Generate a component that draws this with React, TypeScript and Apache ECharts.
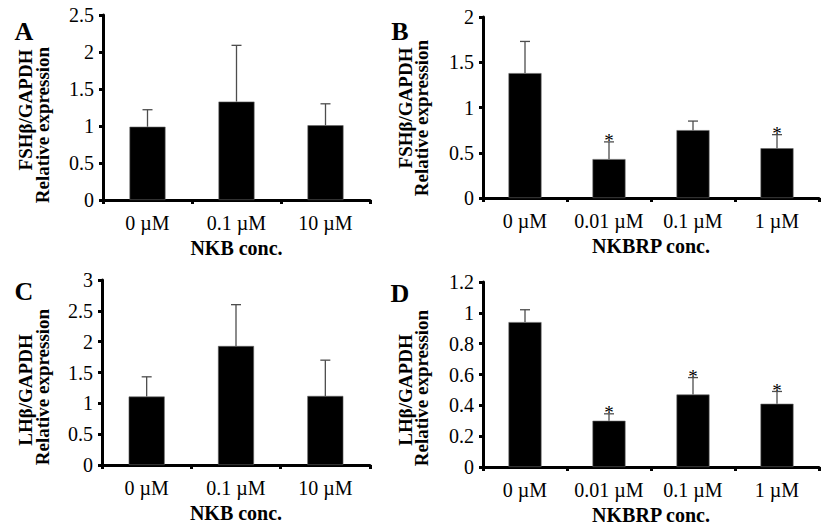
import React, { useEffect, useRef } from 'react';
import * as echarts from 'echarts';

// ---- data ----
const catsNKB = ['0 µM', '0.1 µM', '10 µM'];
const catsNKBRP = ['0 µM', '0.01 µM', '0.1 µM', '1 µM'];

const fshNKB = [0.99, 1.33, 1.01];
const fshNKBErr = [0.23, 0.76, 0.29];
const fshNKBSig = [false, false, false];

const fshNKBRP = [1.38, 0.43, 0.75, 0.55];
const fshNKBRPErr = [0.35, 0.19, 0.1, 0.15];
const fshNKBRPSig = [false, true, false, true];

const lhNKB = [1.11, 1.93, 1.12];
const lhNKBErr = [0.32, 0.67, 0.58];
const lhNKBSig = [false, false, false];

const lhNKBRP = [0.94, 0.3, 0.47, 0.41];
const lhNKBRPErr = [0.08, 0.045, 0.11, 0.08];
const lhNKBRPSig = [false, true, true, true];

const yMaxes = [2.5, 2, 3, 1.2];
const ySteps = [0.5, 0.5, 0.5, 0.2];
const xTitles = ['NKB conc.', 'NKBRP conc.', 'NKB conc.', 'NKBRP conc.'];
const genes = ['FSHβ/GAPDH', 'FSHβ/GAPDH', 'LHβ/GAPDH', 'LHβ/GAPDH'];
const letters = ['A', 'B', 'C', 'D'];

const FONT = "'Liberation Serif', 'Times New Roman', serif";

const panels = [
  { cats: catsNKB, vals: fshNKB, errs: fshNKBErr, sig: fshNKBSig, grid: { left: 103, right: 457, top: 15, bottom: 330 }, barW: 36 },
  { cats: catsNKBRP, vals: fshNKBRP, errs: fshNKBRPErr, sig: fshNKBRPSig, grid: { left: 483, right: 8, top: 17, bottom: 332 }, barW: 33 },
  { cats: catsNKB, vals: lhNKB, errs: lhNKBErr, sig: lhNKBSig, grid: { left: 102, right: 457, top: 280, bottom: 65 }, barW: 36 },
  { cats: catsNKBRP, vals: lhNKBRP, errs: lhNKBRPErr, sig: lhNKBRPSig, grid: { left: 483, right: 8, top: 282, bottom: 63 }, barW: 33 },
];

// positions of panel letters and y titles (layout only)
const letterPos = [[24, 31], [400, 31], [24, 291], [400, 293]];
const geneTitlePos = [[25, 110], [405, 108], [25, 390], [405, 390]];
const relTitlePos = [[42, 125], [421, 118], [42, 387], [421, 388]];

export default function App() {
  const ref = useRef<HTMLDivElement>(null);
  useEffect(() => {
    if (!ref.current) return;
    const chart = echarts.init(ref.current, undefined, { renderer: 'svg' });

    const grid: any[] = [];
    const xAxis: any[] = [];
    const yAxis: any[] = [];
    const series: any[] = [];
    const graphic: any[] = [];

    panels.forEach((p, i) => {
      grid.push({ ...p.grid, containLabel: false });
      xAxis.push({
        type: 'category',
        gridIndex: i,
        data: p.cats,
        boundaryGap: true,
        name: xTitles[i],
        nameLocation: 'middle',
        nameGap: 38,
        nameTextStyle: { fontFamily: FONT, fontSize: 20, fontWeight: 'bold', color: '#000' },
        axisLine: { lineStyle: { color: '#000', width: 3 } },
        axisTick: { show: true, alignWithLabel: false, interval: 0, length: 4, lineStyle: { color: '#000', width: 3 } },
        axisLabel: { fontFamily: FONT, fontSize: 20, color: '#000', margin: 13, interval: 0, hideOverlap: false },
        splitLine: { show: false },
      });
      yAxis.push({
        type: 'value',
        gridIndex: i,
        min: 0,
        max: yMaxes[i],
        interval: ySteps[i],
        axisLine: { show: true, lineStyle: { color: '#000', width: 3 } },
        axisTick: { show: true, length: 4, lineStyle: { color: '#000', width: 3 } },
        axisLabel: {
          fontFamily: FONT, fontSize: 20, color: '#000', margin: 9,
          formatter: (v: number) => String(+v.toFixed(2)),
        },
        splitLine: { show: false },
      });
      series.push({
        type: 'bar',
        xAxisIndex: i,
        yAxisIndex: i,
        data: p.vals,
        barWidth: p.barW,
        itemStyle: { color: '#000', borderColor: '#666', borderWidth: 0.6 },
        z: 2,
      });
      series.push({
        type: 'custom',
        xAxisIndex: i,
        yAxisIndex: i,
        z: 3,
        data: p.vals.map((v, k) => [k, v, p.errs[k], p.sig[k] ? 1 : 0]),
        renderItem: (params: any, api: any) => {
          const c = api.value(0);
          const v = api.value(1);
          const e = api.value(2);
          const s = api.value(3);
          const base = api.coord([c, v]);
          const top = api.coord([c, v + e]);
          const children: any[] = [
            { type: 'line', shape: { x1: base[0], y1: base[1], x2: top[0], y2: top[1] }, style: { stroke: '#4d4d4d', lineWidth: 1.3 } },
            { type: 'line', shape: { x1: top[0] - 5, y1: top[1], x2: top[0] + 5, y2: top[1] }, style: { stroke: '#4d4d4d', lineWidth: 1.3 } },
          ];
          if (s) {
            children.push({
              type: 'text',
              x: top[0],
              y: top[1] - 1,
              style: { text: '*', fontFamily: FONT, fontSize: 19, fill: '#000', textAlign: 'center', textVerticalAlign: 'middle' },
            });
          }
          return { type: 'group', children };
        },
      });

      graphic.push({
        type: 'text', x: letterPos[i][0], y: letterPos[i][1],
        style: { text: letters[i], fontFamily: FONT, fontSize: 26, fontWeight: 'bold', fill: '#000', textAlign: 'center', textVerticalAlign: 'middle' },
      });
      graphic.push({
        type: 'text', x: geneTitlePos[i][0], y: geneTitlePos[i][1], rotation: Math.PI / 2,
        style: { text: genes[i], fontFamily: FONT, fontSize: 19, fontWeight: 'bold', fill: '#000', textAlign: 'center', textVerticalAlign: 'middle' },
      });
      graphic.push({
        type: 'text', x: relTitlePos[i][0], y: relTitlePos[i][1], rotation: Math.PI / 2,
        style: { text: 'Relative expression', fontFamily: FONT, fontSize: 19, fontWeight: 'bold', fill: '#000', textAlign: 'center', textVerticalAlign: 'middle' },
      });
    });

    chart.setOption({
      animation: false,
      backgroundColor: '#fff',
      grid, xAxis, yAxis, series, graphic,
    });
    return () => chart.dispose();
  }, []);

  return (
    <div
      ref={ref}
      style={{ position: 'fixed', left: 0, top: 0, width: 827, height: 530, background: '#fff' }}
    />
  );
}
